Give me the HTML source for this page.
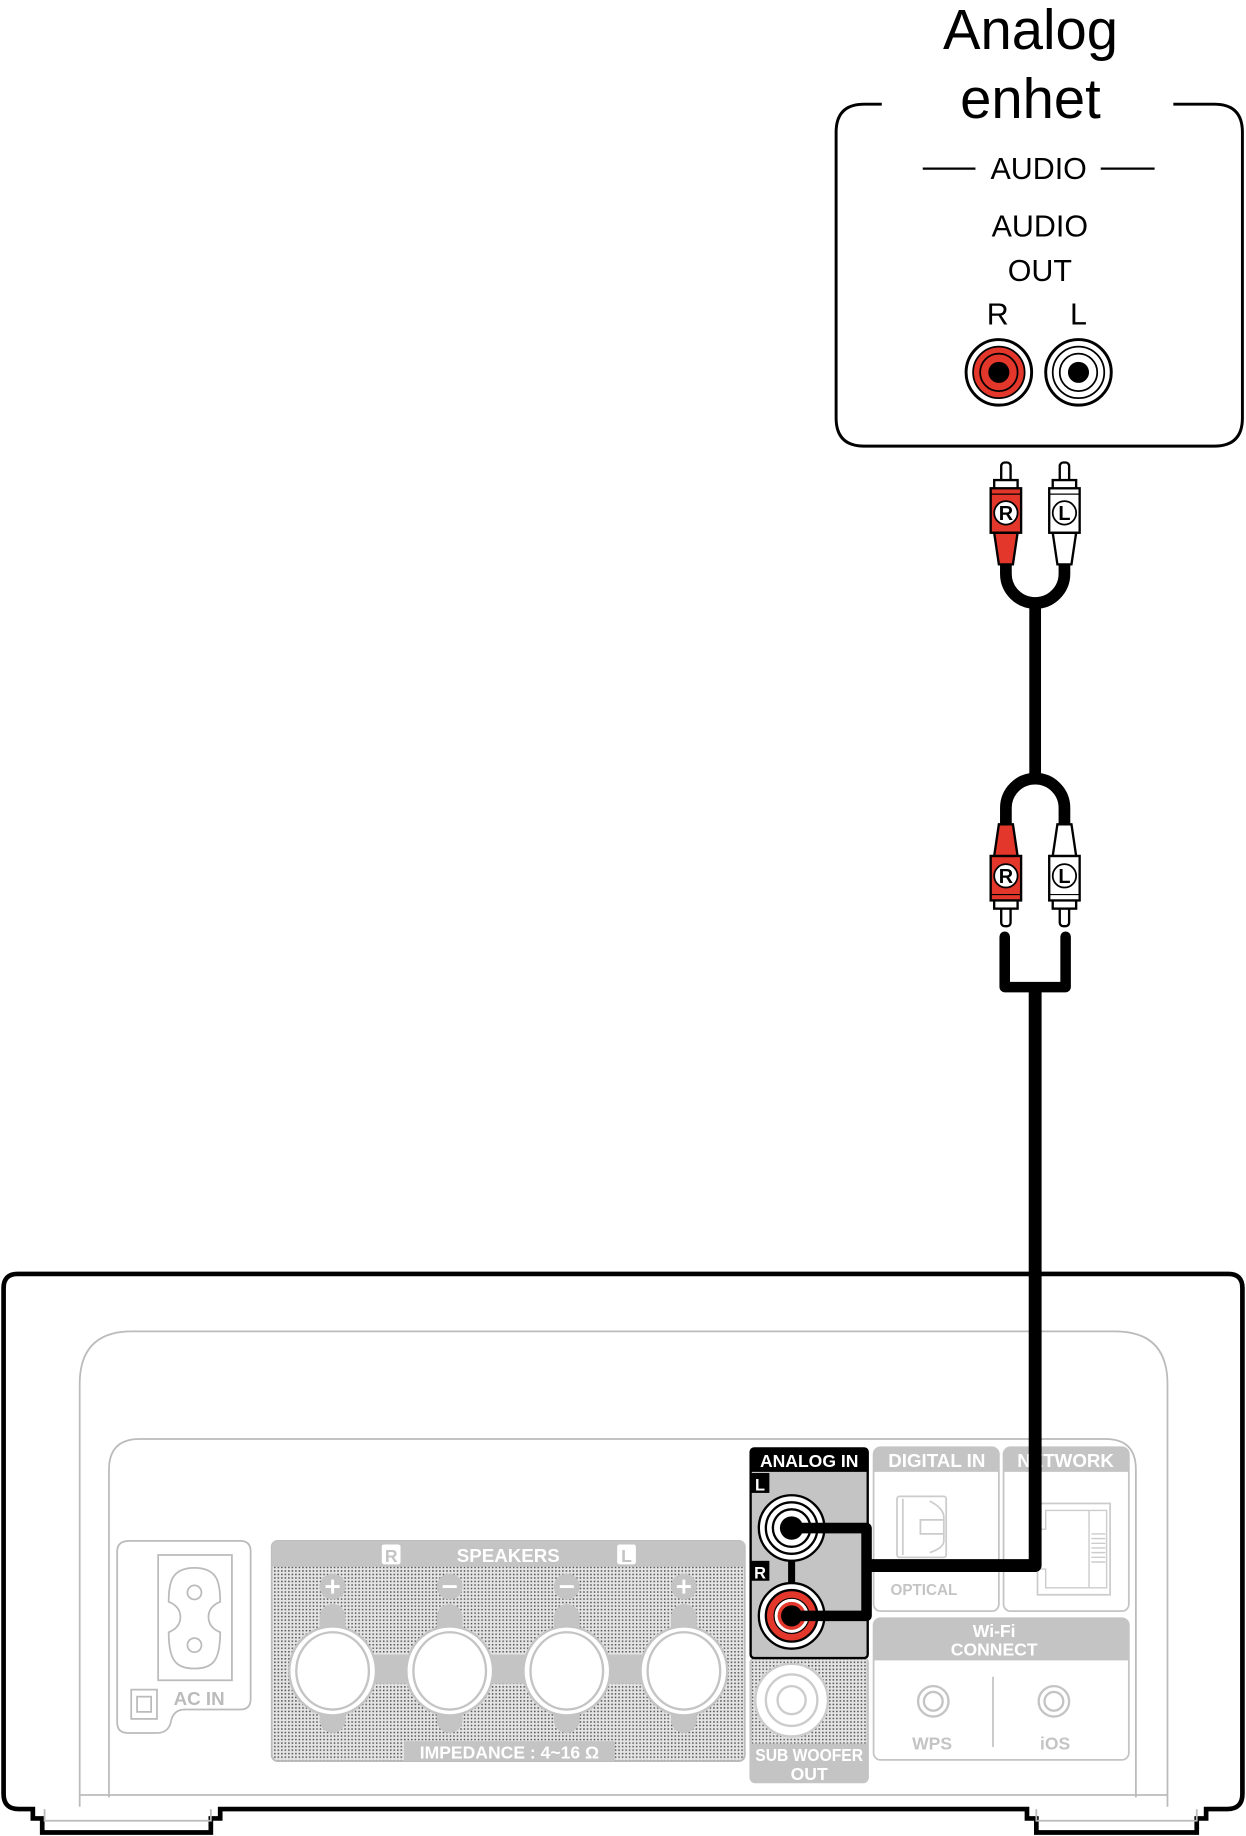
<!DOCTYPE html>
<html><head><meta charset="utf-8"><style>html,body{margin:0;padding:0;background:#fff}svg{display:block}</style></head>
<body>
<svg width="1246" height="1836" viewBox="0 0 1064 1568" xmlns="http://www.w3.org/2000/svg" font-family="Liberation Sans, sans-serif">
<defs>
<pattern id="dots" width="3" height="3" patternUnits="userSpaceOnUse"><rect width="3" height="3" fill="#e4e4e4"/><rect x="0" y="0" width="1.3" height="1.3" fill="#555"/></pattern>
<g id="plugR">
 <rect x="-4" y="-43" width="8" height="18" rx="3" fill="#fff" stroke="#000" stroke-width="2"/>
 <rect x="-10" y="-28" width="20" height="8" fill="#fff" stroke="#000" stroke-width="2"/>
 <rect x="-13" y="-21" width="26" height="38" fill="#e2372a" stroke="#000" stroke-width="2"/>
 <line x1="-13" y1="-16" x2="13" y2="-16" stroke="#000" stroke-width="1"/>
 <polygon points="-10,17 10,17 6,44 -6,44" fill="#e2372a" stroke="#000" stroke-width="2"/>
</g>
<g id="plugL">
 <rect x="-4" y="-43" width="8" height="18" rx="3" fill="#fff" stroke="#000" stroke-width="2"/>
 <rect x="-10" y="-28" width="20" height="8" fill="#fff" stroke="#000" stroke-width="2"/>
 <rect x="-13" y="-21" width="26" height="38" fill="#fff" stroke="#000" stroke-width="2"/>
 <line x1="-13" y1="-16" x2="13" y2="-16" stroke="#000" stroke-width="1"/>
 <polygon points="-10,17 10,17 6,44 -6,44" fill="#fff" stroke="#000" stroke-width="2"/>
</g>
</defs>

<text x="880" y="42" font-size="48" text-anchor="middle">Analog</text>
<text x="880" y="101" font-size="48" text-anchor="middle">enhet</text>
<path d="M753,89 H738 Q714,89 714,113 V357 Q714,381 738,381 H1037 Q1061,381 1061,357 V113 Q1061,89 1037,89 H1002" fill="none" stroke="#000" stroke-width="2.5"/>
<line x1="788" y1="144" x2="833" y2="144" stroke="#000" stroke-width="2"/>
<line x1="940" y1="144" x2="986" y2="144" stroke="#000" stroke-width="2"/>
<text x="887" y="153" font-size="26" text-anchor="middle">AUDIO</text>
<text x="888" y="202" font-size="26" text-anchor="middle">AUDIO</text>
<text x="888" y="240" font-size="26" text-anchor="middle">OUT</text>
<text x="852" y="277" font-size="26" text-anchor="middle">R</text>
<text x="921" y="277" font-size="26" text-anchor="middle">L</text>
<circle cx="853" cy="318" r="28" fill="#fff" stroke="#000" stroke-width="2.5"/>
<circle cx="853" cy="318" r="22" fill="#e2372a" stroke="#000" stroke-width="1.5"/>
<circle cx="853" cy="318" r="16" fill="#e2372a" stroke="#000" stroke-width="1.5"/>
<circle cx="853" cy="318" r="9" fill="#000"/>
<circle cx="921" cy="318" r="28" fill="#fff" stroke="#000" stroke-width="2.5"/>
<circle cx="921" cy="318" r="22" fill="#fff" stroke="#000" stroke-width="1.5"/>
<circle cx="921" cy="318" r="16" fill="#fff" stroke="#000" stroke-width="1.5"/>
<circle cx="921" cy="318" r="9" fill="#000"/>

<path d="M859,478 V490 A25,25 0 0 0 909,490 V478" fill="none" stroke="#000" stroke-width="10"/>
<line x1="884" y1="512" x2="884" y2="668" stroke="#000" stroke-width="10"/>
<path d="M859,708 V690 A25,25 0 0 1 909,690 V708" fill="none" stroke="#000" stroke-width="10"/>
<use href="#plugR" transform="translate(859,438)"/>
<use href="#plugL" transform="translate(909,438)"/>
<use href="#plugR" transform="translate(859,748) scale(1,-1)"/>
<use href="#plugL" transform="translate(909,748) scale(1,-1)"/>
<g font-size="17" font-weight="bold" text-anchor="middle">
<circle cx="859" cy="438" r="10" fill="#fff" stroke="#000" stroke-width="1.5"/><text x="859" y="444">R</text>
<circle cx="909" cy="438" r="10" fill="#fff" stroke="#000" stroke-width="1.5"/><text x="909" y="444">L</text>
<circle cx="859" cy="748" r="10" fill="#fff" stroke="#000" stroke-width="1.5"/><text x="859" y="754">R</text>
<circle cx="909" cy="748" r="10" fill="#fff" stroke="#000" stroke-width="1.5"/><text x="909" y="754">L</text>
</g>
<path d="M858,800 V843 H910 V800" fill="none" stroke="#000" stroke-width="9" stroke-linecap="round" stroke-linejoin="round"/>

<path d="M15,1088 H1049 Q1061,1088 1061,1100 V1532 Q1061,1545 1048,1545 H1030 V1553 H1022 V1565 H885 V1553 H877 V1545 H188 V1553 H180 V1565 H36 V1553 H28 V1545 H16 Q3,1545 3,1532 V1100 Q3,1088 15,1088 Z" fill="#fff" stroke="#000" stroke-width="4"/>
<path d="M68,1543 V1182 Q68,1137 113,1137 H952 Q997,1137 997,1182 V1543" fill="none" stroke="#bbb" stroke-width="1.5"/>
<path d="M93,1535 V1255 Q93,1229 119,1229 H944 Q970,1229 970,1255 V1535" fill="none" stroke="#bbb" stroke-width="1.5"/>
<line x1="68" y1="1533" x2="997" y2="1533" stroke="#bbb" stroke-width="1.5"/>
<path d="M38,1545 V1555 H180 V1545 M885,1545 V1555 H1022 V1545" fill="none" stroke="#bbb" stroke-width="1.5"/>

<path d="M110,1316 H205 Q214,1316 214,1325 V1451 Q214,1460 205,1460 H158 Q148,1460 146,1470 Q144,1480 134,1480 H109 Q100,1480 100,1471 V1325 Q100,1316 110,1316 Z" fill="none" stroke="#bbb" stroke-width="1.5"/>
<rect x="135" y="1328" width="63" height="107" fill="none" stroke="#bbb" stroke-width="1.5"/>
<path d="M166,1339 C186,1339 188,1352 188,1368 Q178,1372 178,1381 Q178,1390 188,1394 C188,1418 182,1425 166,1425 C150,1425 144,1418 144,1394 Q154,1390 154,1381 Q154,1372 144,1368 C144,1352 146,1339 166,1339 Z" fill="none" stroke="#bbb" stroke-width="1.5"/>
<circle cx="166" cy="1360" r="6" fill="none" stroke="#bbb" stroke-width="1.5"/>
<circle cx="166" cy="1405" r="6" fill="none" stroke="#bbb" stroke-width="1.5"/>
<rect x="112" y="1443" width="22" height="25" fill="none" stroke="#bbb" stroke-width="1.5"/>
<rect x="117" y="1449" width="12" height="13" fill="none" stroke="#bbb" stroke-width="1.5"/>
<text x="170" y="1456" font-size="16" font-weight="bold" fill="#bbb" text-anchor="middle">AC IN</text>

<rect x="232" y="1316" width="404" height="188" rx="5" fill="url(#dots)" stroke="#bbb" stroke-width="1.5"/>
<path d="M232,1338 V1321 Q232,1316 237,1316 H631 Q636,1316 636,1321 V1338 Z" fill="#c4c4c4"/>
<rect x="326" y="1319" width="16" height="17" rx="2" fill="#fff"/><text x="334" y="1334" font-size="15" font-weight="bold" fill="#c4c4c4" text-anchor="middle">R</text>
<rect x="527" y="1319" width="16" height="17" rx="2" fill="#fff"/><text x="535" y="1334" font-size="15" font-weight="bold" fill="#c4c4c4" text-anchor="middle">L</text>
<text x="434" y="1334" font-size="16" font-weight="bold" fill="#fff" text-anchor="middle">SPEAKERS</text>
<rect x="300" y="1413" width="268" height="25" fill="#c4c4c4"/>
<g fill="#c4c4c4">
<rect x="273" y="1370" width="22" height="110" rx="11"/><rect x="373" y="1370" width="22" height="110" rx="11"/><rect x="473" y="1370" width="22" height="110" rx="11"/><rect x="573" y="1370" width="22" height="110" rx="11"/>
<circle cx="284" cy="1355" r="11"/><circle cx="384" cy="1355" r="11"/><circle cx="484" cy="1355" r="11"/><circle cx="584" cy="1355" r="11"/>
</g>
<g stroke="#fff" stroke-width="2.5"><path d="M278,1355 H290 M284,1349 V1361 M378,1355 H390 M478,1355 H490 M578,1355 H590 M584,1349 V1361"/></g>
<g fill="#fff" stroke="#c4c4c4" stroke-width="2">
<ellipse cx="284" cy="1427" rx="37" ry="38"/><ellipse cx="384" cy="1427" rx="37" ry="38"/><ellipse cx="484" cy="1427" rx="37" ry="38"/><ellipse cx="584" cy="1427" rx="37" ry="38"/>
<ellipse cx="284" cy="1427" rx="31" ry="33"/><ellipse cx="384" cy="1427" rx="31" ry="33"/><ellipse cx="484" cy="1427" rx="31" ry="33"/><ellipse cx="584" cy="1427" rx="31" ry="33"/>
</g>
<rect x="345" y="1487" width="180" height="17" fill="#c4c4c4"/>
<text x="435" y="1502" font-size="15" font-weight="bold" fill="#fff" text-anchor="middle">IMPEDANCE : 4~16 Ω</text>

<rect x="640" y="1415" width="102" height="108" rx="5" fill="#c4c4c4"/>
<rect x="642" y="1417" width="98" height="72" fill="url(#dots)"/>
<circle cx="676" cy="1452" r="31" fill="#fff" stroke="#ccc" stroke-width="2"/>
<circle cx="676" cy="1452" r="22" fill="#fff" stroke="#ccc" stroke-width="2"/>
<circle cx="676" cy="1452" r="12" fill="#fff" stroke="#ccc" stroke-width="2"/>
<text x="691" y="1504" font-size="15" font-weight="bold" fill="#fff" text-anchor="middle" textLength="92" lengthAdjust="spacingAndGlyphs">SUB WOOFER</text>
<text x="691" y="1520" font-size="15" font-weight="bold" fill="#fff" text-anchor="middle">OUT</text>

<rect x="641" y="1237" width="100" height="179" rx="3" fill="#c4c4c4" stroke="#000" stroke-width="2"/>
<path d="M641,1257 V1241 Q641,1237 645,1237 H737 Q741,1237 741,1241 V1257 Z" fill="#000"/>
<text x="691" y="1253" font-size="15" font-weight="bold" fill="#fff" text-anchor="middle">ANALOG IN</text>
<rect x="641" y="1258" width="16" height="17" fill="#000"/><text x="649" y="1273" font-size="14" font-weight="bold" fill="#fff" text-anchor="middle">L</text>
<rect x="641" y="1333" width="16" height="17" fill="#000"/><text x="649" y="1348" font-size="14" font-weight="bold" fill="#fff" text-anchor="middle">R</text>
<line x1="676" y1="1305" x2="676" y2="1380" stroke="#000" stroke-width="6"/>
<circle cx="676" cy="1305" r="28" fill="#fff" stroke="#000" stroke-width="2"/>
<circle cx="676" cy="1305" r="22" fill="#fff" stroke="#000" stroke-width="2"/>
<circle cx="676" cy="1305" r="16" fill="#fff" stroke="#000" stroke-width="2"/>
<circle cx="676" cy="1305" r="10" fill="#000"/>
<circle cx="676" cy="1380" r="28" fill="#fff" stroke="#000" stroke-width="2"/>
<circle cx="676" cy="1380" r="22" fill="#e2372a" stroke="#000" stroke-width="2"/>
<circle cx="676" cy="1380" r="15" fill="#fff" stroke="#000" stroke-width="1"/>
<circle cx="676" cy="1380" r="12" fill="#e2372a"/>
<circle cx="676" cy="1380" r="9" fill="#000"/>

<rect x="746" y="1236" width="107" height="140" rx="6" fill="none" stroke="#c4c4c4" stroke-width="1.5"/>
<path d="M746,1257 V1242 Q746,1236 752,1236 H847 Q853,1236 853,1242 V1257 Z" fill="#c4c4c4"/>
<text x="800" y="1253" font-size="16" font-weight="bold" fill="#fff" text-anchor="middle">DIGITAL IN</text>
<rect x="766" y="1278" width="42" height="52" rx="2" fill="none" stroke="#ccc" stroke-width="1.5"/>
<path d="M771,1280 V1328 M794,1282 Q806,1288 806,1296 V1316 Q806,1322 794,1326 M786,1298 H806 V1310 H786 Z" fill="none" stroke="#ccc" stroke-width="1.5"/>
<text x="789" y="1362" font-size="13" font-weight="bold" fill="#c4c4c4" text-anchor="middle">OPTICAL</text>

<rect x="857" y="1236" width="107" height="140" rx="6" fill="none" stroke="#c4c4c4" stroke-width="1.5"/>
<path d="M857,1257 V1242 Q857,1236 863,1236 H958 Q964,1236 964,1242 V1257 Z" fill="#c4c4c4"/>
<text x="910" y="1253" font-size="16" font-weight="bold" fill="#fff" text-anchor="middle">NETWORK</text>
<rect x="886" y="1284" width="62" height="78" fill="none" stroke="#ccc" stroke-width="1.5"/>
<path d="M893,1290 H930 V1356 H893 V1340 H888 V1306 H893 Z M930,1290 H945 V1356 H930 M932,1310 H944 M932,1314 H944 M932,1318 H944 M932,1322 H944 M932,1326 H944 M932,1330 H944 M932,1334 H944" fill="none" stroke="#ccc" stroke-width="1.2"/>

<rect x="746" y="1382" width="218" height="121" rx="6" fill="none" stroke="#c4c4c4" stroke-width="1.5"/>
<path d="M746,1418 V1388 Q746,1382 752,1382 H958 Q964,1382 964,1388 V1418 Z" fill="#c4c4c4"/>
<text x="849" y="1398" font-size="15" font-weight="bold" fill="#fff" text-anchor="middle">Wi-Fi</text>
<text x="849" y="1414" font-size="15" font-weight="bold" fill="#fff" text-anchor="middle">CONNECT</text>
<line x1="848" y1="1432" x2="848" y2="1492" stroke="#c4c4c4" stroke-width="1.5"/>
<circle cx="797" cy="1453" r="13" fill="#fff" stroke="#c4c4c4" stroke-width="2"/><circle cx="797" cy="1453" r="8" fill="#fff" stroke="#c4c4c4" stroke-width="2"/>
<circle cx="900" cy="1453" r="13" fill="#fff" stroke="#c4c4c4" stroke-width="2"/><circle cx="900" cy="1453" r="8" fill="#fff" stroke="#c4c4c4" stroke-width="2"/>
<text x="796" y="1494" font-size="15" font-weight="bold" fill="#c4c4c4" text-anchor="middle">WPS</text>
<text x="901" y="1494" font-size="15" font-weight="bold" fill="#c4c4c4" text-anchor="middle">iOS</text>

<path d="M884,843 V1337 H742" fill="none" stroke="#000" stroke-width="11" stroke-linejoin="round"/>
<path d="M676,1305 H740 V1380 H676" fill="none" stroke="#000" stroke-width="9" stroke-linejoin="round"/>
</svg>
</body></html>
